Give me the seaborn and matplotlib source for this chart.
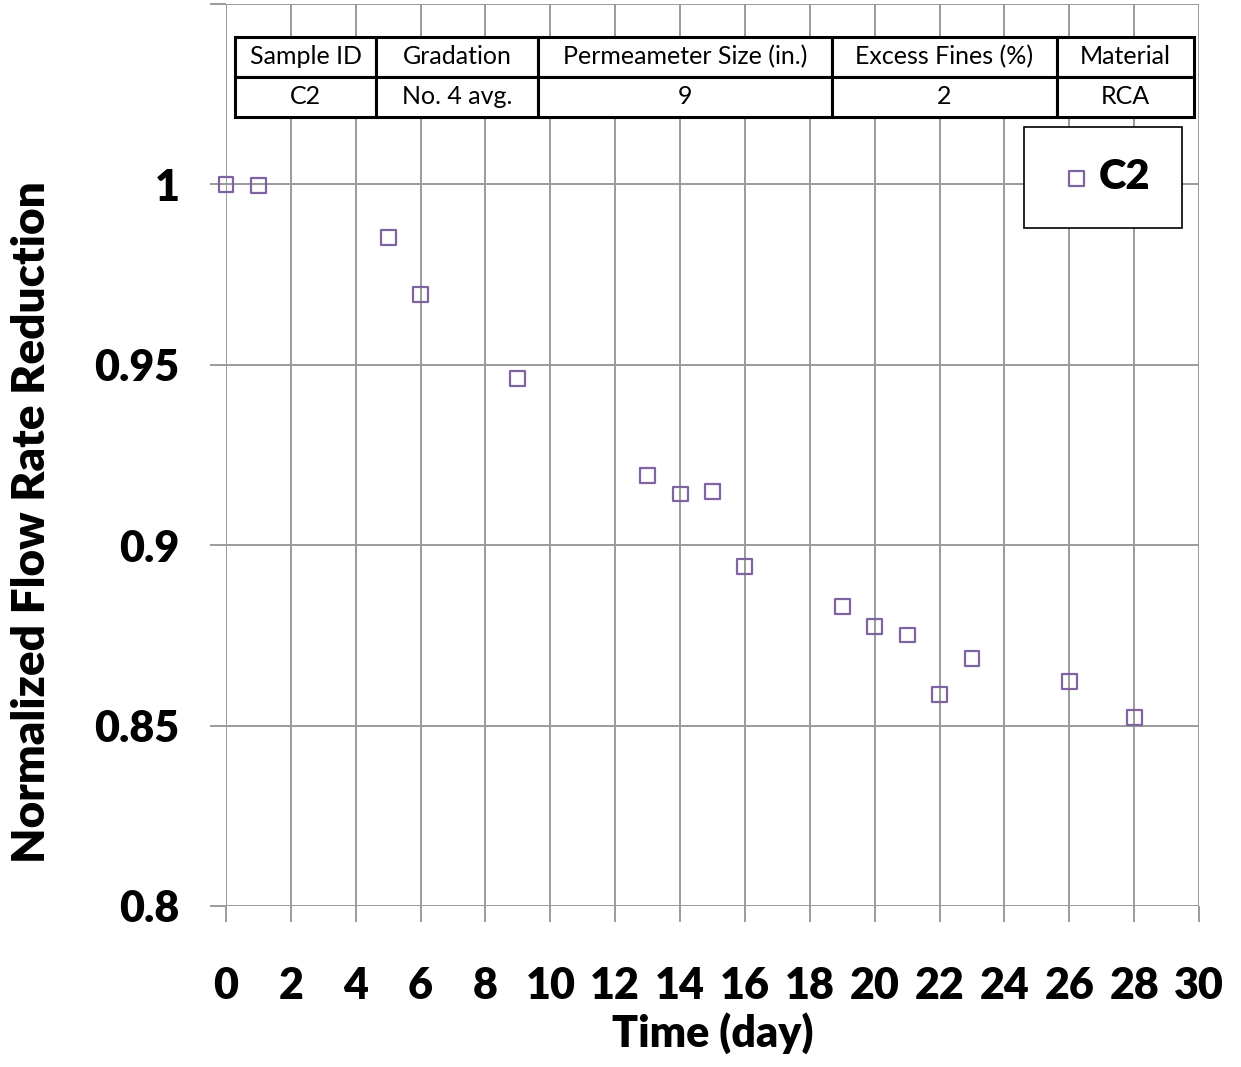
import matplotlib
matplotlib.use("Agg")
import matplotlib.pyplot as plt
import seaborn as sns

# data
days = [0, 1, 5, 6, 9, 13, 14, 15, 16, 19, 20, 21, 22, 23, 26, 28]
flow_ratio = [1.0, 0.9997, 0.9854, 0.9696, 0.9461, 0.9194, 0.9142, 0.9150,
              0.8942, 0.8829, 0.8774, 0.8751, 0.8585, 0.8686, 0.8622, 0.8522]

x_ticks = list(range(0, 31, 2))
y_ticks = [0.8, 0.85, 0.9, 0.95, 1.0, 1.05]
y_tick_labels = ["0.8", "0.85", "0.9", "0.95", "1", ""]

table_header = ["Sample ID", "Gradation", "Permeameter Size (in.)", "Excess Fines (%)", "Material"]
table_row = ["C2", "No. 4 avg.", "9", "2", "RCA"]
col_px = [141, 162, 294, 225, 137]

sns.set_style("white")
plt.rcParams['font.family'] = ['Lato', 'DejaVu Sans']
plt.rcParams['text.color'] = 'black'
plt.rcParams['xtick.color'] = 'black'
plt.rcParams['ytick.color'] = 'black'
plt.rcParams['axes.labelcolor'] = 'black'

fig = plt.figure(figsize=(12.41, 10.67), dpi=100)
ax = fig.add_axes([226 / 1241, 1 - 906 / 1067, 973 / 1241, 902 / 1067])

grid_c = "#9a9a9a"
sns.scatterplot(x=days, y=flow_ratio, ax=ax, marker="s", s=115,
                facecolors="none", edgecolor="#8064A2", linewidth=1.6,
                label="C2", zorder=3, clip_on=False)

ax.set_xlim(0, 30)
ax.set_ylim(0.8, 1.05)
ax.set_xticks(x_ticks)
ax.set_yticks(y_ticks)
ax.set_yticklabels(y_tick_labels)
ax.grid(True, color=grid_c, linewidth=1.4)
for s in ax.spines.values():
    s.set_visible(False)
ax.tick_params(axis="both", direction="out", length=11.5, width=1.4, color=grid_c,
               labelsize=31, bottom=True, left=True, labelcolor="black")
ax.tick_params(axis="y", pad=22)
ax.tick_params(axis="x", pad=32)
for lab in ax.get_xticklabels() + ax.get_yticklabels():
    lab.set_fontweight("heavy")

ax.set_xlabel("Time (day)", fontsize=31, fontweight="heavy")
ax.set_ylabel("Normalized Flow Rate Reduction", fontsize=33, fontweight="heavy")
ax.yaxis.set_label_coords((52 - 226) / 973, (906 - 522) / 902)
ax.xaxis.set_label_coords(0.5, (906 - 1012) / 902)

# info table
tot = sum(col_px)
tbl = ax.table(cellText=[table_header, table_row], cellLoc="center",
               colWidths=[c / tot for c in col_px],
               bbox=[(235 - 226) / 973, (906 - 117) / 902, 959 / 973, 80 / 902])
tbl.auto_set_font_size(False)
tbl.set_fontsize(18)
for cell in tbl.get_celld().values():
    cell.set_linewidth(2.2)
    cell.set_edgecolor("black")
    cell.set_facecolor("white")
tbl.set_zorder(4)

leg = ax.legend(loc="upper right", bbox_to_anchor=((1182 - 226) / 973, (906 - 127) / 902),
                borderaxespad=0, frameon=True, fancybox=False, edgecolor="black",
                framealpha=1, prop={"weight": "heavy", "size": 30}, borderpad=0.75,
                handlelength=1.0, handletextpad=0.05)
leg.get_frame().set_linewidth(1.2)

fig.savefig("out.png", dpi=100)
